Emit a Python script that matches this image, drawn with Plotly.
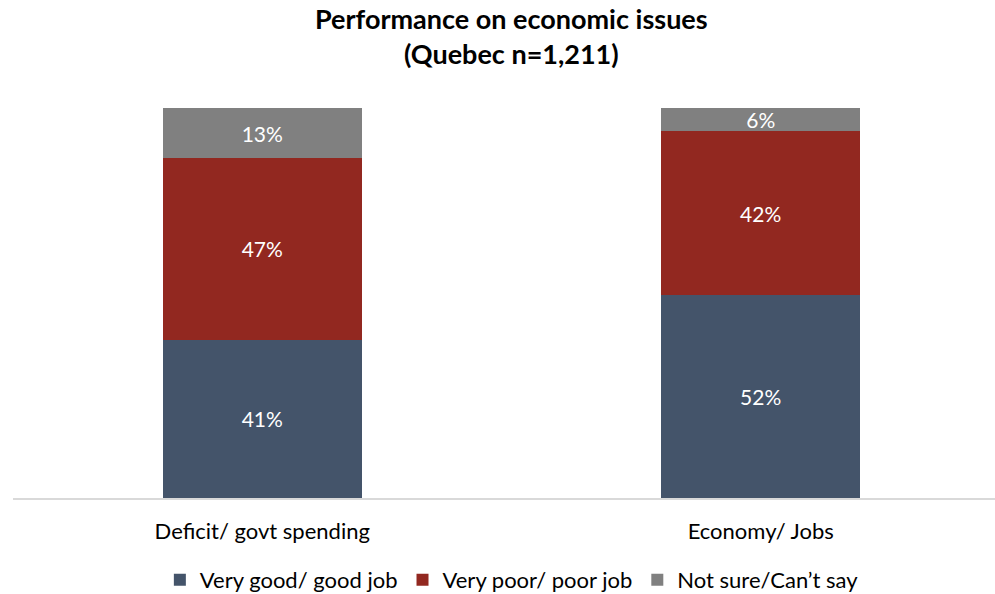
import plotly.graph_objects as go

categories = ["Deficit/ govt spending", "Economy/ Jobs"]
series_names = ["Very good/ good job", "Very poor/ poor job", "Not sure/Can\u2019t say"]
good = [41, 52]
poor = [47, 42]
unsure = [13, 6]
colors = ["#44546A", "#922820", "#808080"]
title_text = "<b>Performance on economic issues<br>(Quebec n=1,211)</b>"

FONT = "Lato"
fig = go.Figure()
for name, vals, col in zip(series_names, [good, poor, unsure], colors):
    fig.add_trace(go.Bar(
        x=categories, y=vals, name=name, marker_color=col, marker_line_width=0,
        width=0.4,
        text=[f"{v}%" for v in vals], textposition="inside", insidetextanchor="middle",
        textangle=0, textfont=dict(color="white", size=21, family=FONT),
    ))

fig.add_annotation(text=title_text, xref="paper", yref="paper", x=0.508, y=1.277,
                   xanchor="center", yanchor="top", showarrow=False,
                   font=dict(size=27, family=FONT, color="#000000"))

fig.update_layout(
    barmode="stack", barnorm="percent",
    width=995, height=594,
    margin=dict(l=13, r=0, t=108, b=96, autoexpand=False),
    paper_bgcolor="white", plot_bgcolor="white",
    font=dict(family=FONT, size=22, color="#000000"),
    uniformtext=dict(minsize=21, mode="show"),
    showlegend=True,
    legend=dict(orientation="h", x=0.508, xanchor="center", y=-0.21, yanchor="middle",
                font=dict(size=22, family=FONT), traceorder="normal", itemwidth=30),
)
fig.update_xaxes(range=[-0.5, 1.47], showline=True, linecolor="#D9D9D9", linewidth=2,
                 ticks="", ticklabelstandoff=13, tickfont=dict(size=22, family=FONT))
fig.update_yaxes(range=[0, 100], visible=False, showgrid=False)

fig.write_html("out.html")
